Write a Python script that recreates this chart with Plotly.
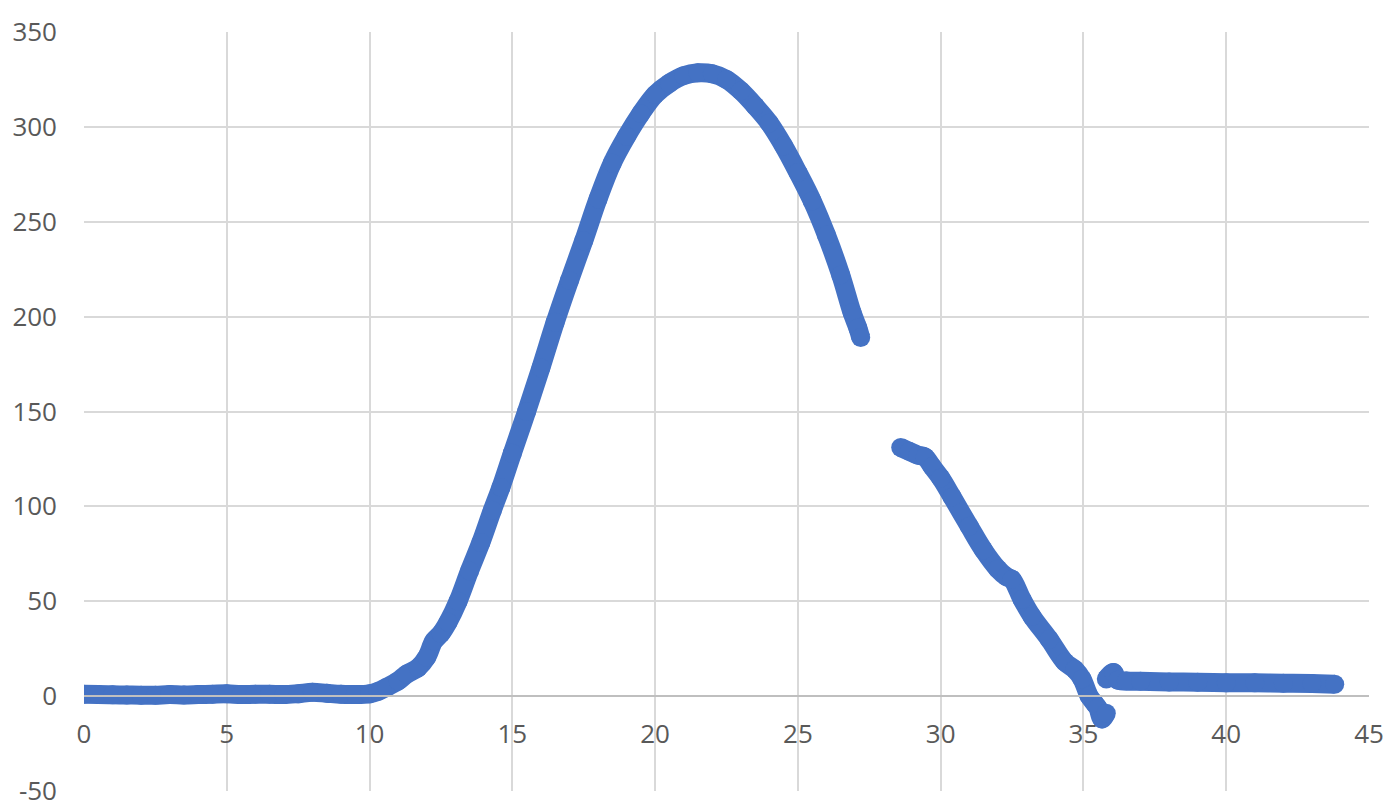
import plotly.graph_objects as go

# Segment 1: baseline and main peak
x1 = [0, 0.5, 1, 1.5, 2, 2.5, 3, 3.5, 4, 4.5, 5, 5.5, 6, 6.5, 7, 7.5, 8, 8.5, 9, 9.5,
      10, 10.3, 10.6, 11.0, 11.3, 11.7, 12.0, 12.25, 12.5, 12.75, 13.1, 13.5, 13.9,
      14.3, 14.6, 15.0, 15.5, 16.0, 16.5, 17.0, 17.5, 18.0, 18.5, 19.0, 19.5, 20.0,
      20.5, 21.0, 21.5, 22.0, 22.5, 23.0, 23.5, 24.0, 24.5, 25.0, 25.5, 26.0, 26.5,
      26.9, 27.1, 27.2]
y1 = [1, 0.8, 0.7, 0.6, 0.5, 0.5, 0.8, 0.6, 0.8, 1, 1.2, 0.8, 1, 1, 0.8, 1.3, 2, 1.5, 1, 0.8,
      1.2, 2.5, 4.7, 8, 11.6, 15, 20.5, 29, 33, 39, 50, 66, 81,
      98, 110, 128, 150, 173, 197, 219, 240, 262, 281, 295, 307, 317,
      323, 327, 328.5, 328, 325, 319, 311, 302, 290, 276, 261, 243, 222,
      202, 194, 189]

# Segment 2: descending part after the gap
x2 = [28.6, 28.9, 29.2, 29.45, 29.7, 30.0, 30.4, 31.0, 31.5, 32.0, 32.3, 32.5, 32.85,
      33.2, 33.8, 34.35, 34.7, 34.95, 35.2, 35.4, 35.5, 35.65, 35.8]
y2 = [131, 129, 127, 126, 121, 115, 105, 89.5, 77, 67, 63, 61.5, 51,
      42, 30, 18, 14, 9, 0, -4, -6, -12, -9]

# Segment 3: flat tail
x3 = [35.8, 36.05, 36.2, 36.5, 37, 38, 39, 40, 41, 42, 43, 43.8]
y3 = [9, 12.5, 8.5, 8, 7.8, 7.5, 7.3, 7, 7, 6.8, 6.6, 6.3]

xticks = [0, 5, 10, 15, 20, 25, 30, 35, 40, 45]
yticks = [-50, 0, 50, 100, 150, 200, 250, 300, 350]

BLUE = "#4472C4"
fig = go.Figure()
for xs, ys in [(x1, y1), (x2, y2), (x3, y3)]:
    fig.add_trace(go.Scatter(
        x=xs, y=ys, mode="lines+markers",
        line=dict(color=BLUE, width=19, shape="spline", smoothing=1),
        marker=dict(color=BLUE, size=19, line=dict(width=0)),
        showlegend=False, hoverinfo="skip"))

font = dict(family="Open Sans, Segoe UI, sans-serif", size=26, color="#595959")
fig.update_layout(
    width=1400, height=811,
    margin=dict(l=84, r=31, t=32, b=20, autoexpand=False),
    paper_bgcolor="white", plot_bgcolor="white",
    font=font,
    xaxis=dict(range=[0, 45], tickvals=xticks, ticktext=[str(v) for v in xticks],
               showgrid=True, gridcolor="#d9d9d9", gridwidth=2,
               zeroline=False, showline=True, linecolor="#bfbfbf", linewidth=2,
               anchor="free", position=0.125, ticks="", ticklabelstandoff=15,
               tickfont=font, automargin=False),
    yaxis=dict(range=[-50, 350], tickvals=yticks, ticktext=[str(v) for v in yticks],
               showgrid=True, gridcolor="#d9d9d9", gridwidth=2,
               zeroline=False, showline=False, ticks="", ticklabelstandoff=26,
               tickfont=font, automargin=False),
)
fig.write_html(
    "out.html",
    config={"displayModeBar": False},
    post_script=(
        "var s=document.documentElement.style;s.margin='0';s.padding='0';"
        "s.overflow='hidden';s.height='811px';"
        "var b=document.body.style;b.margin='0';b.padding='0';"
        "b.overflow='hidden';b.height='811px';"
    ),
)
